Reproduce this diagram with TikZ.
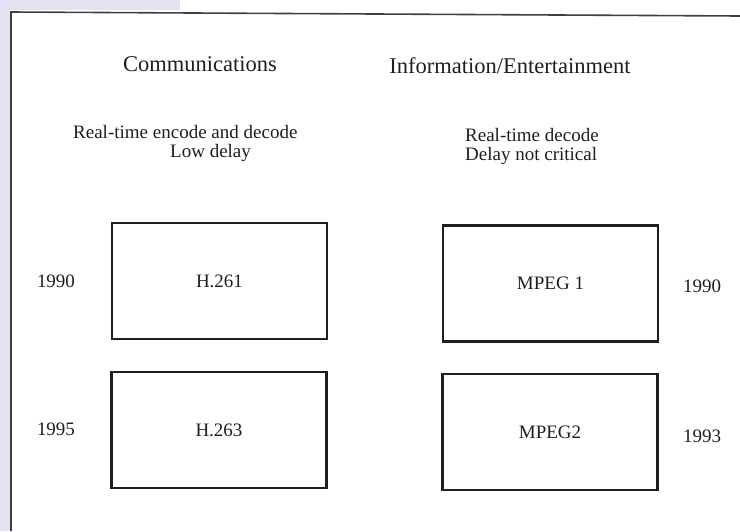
\documentclass[tikz,border=0pt]{standalone}
\usepackage{fontspec}
\setmainfont{Liberation Serif}

\definecolor{scanblue}{RGB}{226,226,242}
\definecolor{inkgray}{RGB}{30,30,30}

\newcommand*{\picw}{740}
\newcommand*{\pich}{531}

\begin{document}
\begin{tikzpicture}
[
	x=1pt,y=-1pt,
	stdbox/.style={draw=inkgray,line width=2.2pt,minimum width=215pt,minimum height=116pt,inner sep=0pt,text=inkgray,font=\fontsize{19}{20}\selectfont},
	headtxt/.style={anchor=base,inner sep=0pt,text=inkgray,font=\fontsize{22.5}{24}\selectfont},
	smalltxt/.style={inner sep=0pt,text=inkgray,font=\fontsize{19}{19.5}\selectfont},
	yeartxt/.style={anchor=base,inner sep=0pt,text=inkgray,font=\fontsize{19}{20}\selectfont}
]

	\useasboundingbox (0,0) rectangle (\picw,\pich);

	% scanned page edge
	\fill[scanblue] (0,0) rectangle (10,\pich);
	\fill[scanblue] (0,0) rectangle (180,10);
	\draw[inkgray!85,line width=1.6pt] (11,\pich) -- (11,12) -- (\picw,16);

	% column headings
	\node[headtxt] (comm) at (200,71) {Communications};
	\node[headtxt] (info) at (510,73) {Information/Entertainment};

	\node[smalltxt,anchor=base west] (commreq) at (73,138) {Real-time encode and decode};
	\node[smalltxt,anchor=base west] (commdelay) at (170,157) {Low delay};
	\node[smalltxt,anchor=north west,align=left] (inforeq) at (465,128) {Real-time decode\\Delay not critical};

	% standards
	\node[stdbox] (h261) at (219.5,281) {H.261};
	\node[stdbox] (h263) at (219,430) {H.263};
	\node[stdbox] (mpeg1) at (550.5,283.5) {MPEG 1};
	\node[stdbox] (mpeg2) at (550,432) {MPEG2};

	% years
	\node[yeartxt] (y261) at (56,287) {1990};
	\node[yeartxt] (y263) at (56,435) {1995};
	\node[yeartxt] (ympeg1) at (702,292) {1990};
	\node[yeartxt] (ympeg2) at (702,442) {1993};

\end{tikzpicture}
\end{document}
